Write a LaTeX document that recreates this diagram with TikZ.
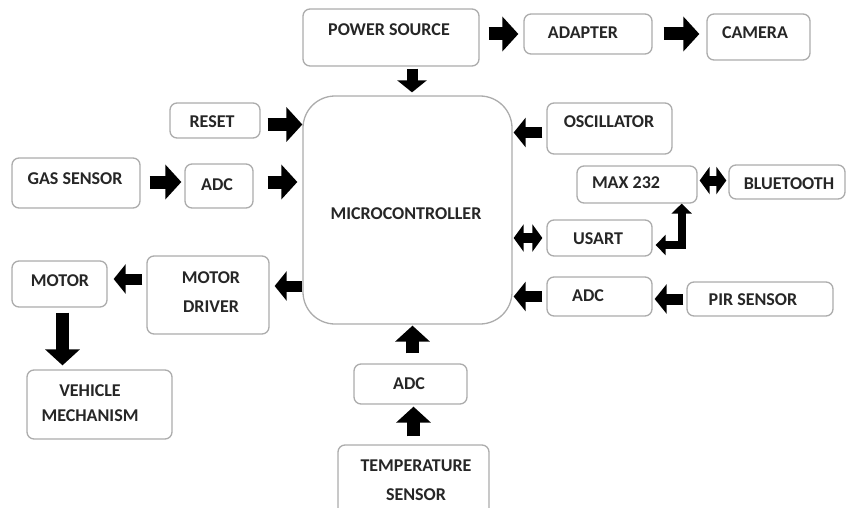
\documentclass[tikz,border=0pt]{standalone}
\usepackage{fontspec}
\setmainfont{Carlito}
\usetikzlibrary{arrows.meta,positioning,calc}

\begin{document}
\begin{tikzpicture}[x=1pt, y=-1pt,
    box/.style={rectangle, draw=gray!65, line width=1.3pt, rounded corners=7pt, fill=white, inner sep=0pt},
    lbl/.style={font=\bfseries\fontsize{18}{21}\selectfont, text=black!85, align=center, inner sep=0pt},
    bigarrow/.style={line width=13pt, -{Triangle[length=16pt,width=34pt]}},
    blkarrow/.style={line width=11pt, -{Triangle[length=12pt,width=29pt]}},
    dblarrow/.style={line width=10pt, {Triangle[length=10pt,width=27pt]}-{Triangle[length=10pt,width=27pt]}},
    elbow/.style={line width=8pt, {Triangle[length=10pt,width=20pt]}-{Triangle[length=10pt,width=20pt]}}
]
\useasboundingbox (0,0) rectangle (848,508);
\clip (0,0) rectangle (848,508);

% Microcontroller
\node[box, rounded corners=32pt, minimum width=209pt, minimum height=228pt] (mc) at (407.5,210) {};
\node[lbl] (mctxt) at (406,214) {MICROCONTROLLER};

% Power chain
\node[box, minimum width=176pt, minimum height=57pt] (ps) at (391,37.5) {};
\node[lbl] (pstxt) at (389,30) {POWER SOURCE};
\node[box, minimum width=128pt, minimum height=40pt] (adapter) at (588,34) {};
\node[lbl] (adaptertxt) at (583,33) {ADAPTER};
\node[box, minimum width=103pt, minimum height=46pt] (camera) at (758.5,37) {};
\node[lbl] (cameratxt) at (755,33) {CAMERA};

% Left inputs
\node[box, minimum width=90pt, minimum height=35pt] (reset) at (215,120.5) {};
\node[lbl] (resettxt) at (212,122) {RESET};
\node[box, minimum width=128pt, minimum height=50pt] (gas) at (76,183) {};
\node[lbl] (gastxt) at (75,179) {GAS SENSOR};
\node[box, minimum width=68pt, minimum height=44pt] (adcgas) at (219,186) {};
\node[lbl] (adcgastxt) at (217,185) {ADC};

% Right side
\node[box, minimum width=125pt, minimum height=51pt] (osc) at (609.5,128.5) {};
\node[lbl] (osctxt) at (609,122) {OSCILLATOR};
\node[box, minimum width=120pt, minimum height=37pt] (max) at (637,184.5) {};
\node[lbl] (maxtxt) at (626,183) {MAX 232};
\node[box, minimum width=116pt, minimum height=34pt] (bt) at (787,182) {};
\node[lbl] (bttxt) at (789,184) {BLUETOOTH};
\node[box, minimum width=105pt, minimum height=36pt] (usart) at (599.5,238) {};
\node[lbl] (usarttxt) at (598,239) {USART};
\node[box, minimum width=105pt, minimum height=39pt] (adcpir) at (599.5,296.5) {};
\node[lbl] (adcpirtxt) at (588,296) {ADC};
\node[box, minimum width=146pt, minimum height=34pt] (pir) at (760,299) {};
\node[lbl] (pirtxt) at (753,300) {PIR SENSOR};

% Motor side
\node[box, minimum width=122pt, minimum height=78pt] (md) at (208,295) {};
\node[lbl] (mdtxt) at (211,292.5) {MOTOR\\[8pt]DRIVER};
\node[box, minimum width=95pt, minimum height=46pt] (motor) at (59.5,284) {};
\node[lbl] (motortxt) at (60,281) {MOTOR};
\node[box, minimum width=145pt, minimum height=69pt] (veh) at (99.5,404.5) {};
\node[lbl] (vehtxt) at (90,403.5) {VEHICLE\\[4pt]MECHANISM};

% Temperature
\node[box, minimum width=113pt, minimum height=40pt] (adctemp) at (410.5,384) {};
\node[lbl] (adctemptxt) at (409,384) {ADC};
\node[box, minimum width=151pt, minimum height=75pt] (temp) at (413.5,482.5) {};
\node[lbl] (temptxt) at (416,480.5) {TEMPERATURE\\[8pt]SENSOR};

% Arrows
\draw[blkarrow, shorten <=2pt, shorten >=3pt] ([xshift=21pt]ps.south) -- ([xshift=21pt]ps.south |- mc.north);
\draw[bigarrow, shorten <=9pt, shorten >=5pt] (ps.east |- adapter) -- (adapter.west);
\draw[bigarrow, shorten <=11pt, shorten >=7pt] (adapter.east) -- (adapter.east -| camera.west);
\draw[bigarrow, shorten <=7pt] ([yshift=-4pt]reset.east) -- ([yshift=-4pt]reset.east -| mc.west);
\draw[bigarrow, shorten <=9pt, shorten >=3pt] ([yshift=1pt]gas.east) -- ([yshift=1pt]gas.east -| adcgas.west);
\draw[bigarrow, shorten <=14pt, shorten >=5pt] ([yshift=4pt]adcgas.east) -- ([yshift=4pt]adcgas.east -| mc.west);
\draw[blkarrow, shorten <=4pt, shorten >=1pt] ([yshift=-4pt]osc.west) -- ([yshift=-4pt]osc.west -| mc.east);
\draw[dblarrow, shorten <=4pt, shorten >=1pt] (usart.west) -- (usart.west -| mc.east);
\draw[dblarrow, shorten <=2pt, shorten >=2pt] ([yshift=4pt]max.east) -- ([yshift=4pt]max.east -| bt.west);
\draw[elbow, shorten <=3pt] ([yshift=-7pt]usart.east) -| ([xshift=-16pt]max.south east);
\draw[blkarrow, shorten >=5pt] ([yshift=9pt]md.east -| mc.west) -- ([yshift=9pt]md.east);
\draw[blkarrow, shorten <=4pt, shorten >=6pt] ([yshift=5pt]motor.east -| md.west) -- ([yshift=5pt]motor.east);
\draw[bigarrow, shorten <=5pt, shorten >=4pt] ([xshift=3pt]motor.south) -- ([xshift=3pt]motor.south |- veh.north);
\draw[blkarrow, shorten <=4pt, shorten >=1pt] (adcpir.west) -- (adcpir.west -| mc.east);
\draw[blkarrow, shorten <=3pt, shorten >=2pt] (pir.west) -- (pir.west -| adcpir.east);
\draw[bigarrow, shorten <=10pt, shorten >=1pt] ([xshift=2pt]adctemp.north) -- ([xshift=2pt]adctemp.north |- mc.south);
\draw[bigarrow, shorten <=8pt, shorten >=2pt] (temp.north) -- (temp.north |- adctemp.south);

\end{tikzpicture}
\end{document}
